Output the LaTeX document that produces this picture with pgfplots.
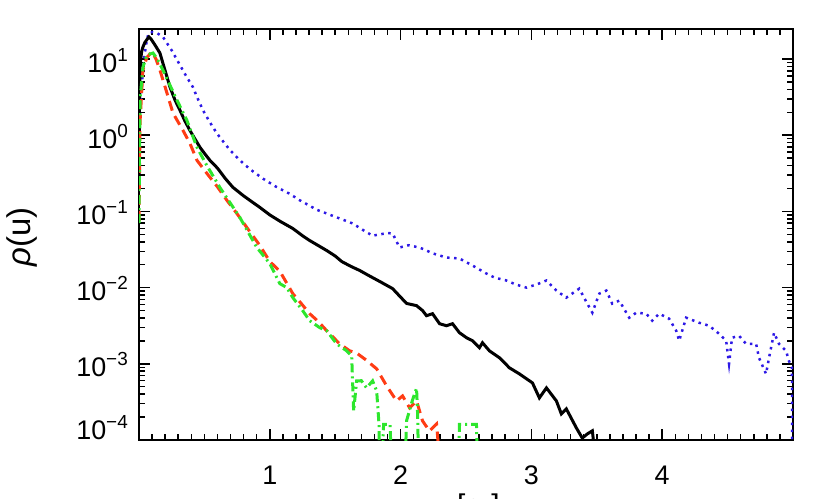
\documentclass[border=0pt]{standalone}
\usepackage{fontspec}
\setmainfont{Liberation Sans}
\usepackage{pgfplots}
\pgfplotsset{compat=1.18}
\definecolor{myblue}{RGB}{45,25,230}
\definecolor{myred}{RGB}{255,60,20}
\definecolor{mygreen}{RGB}{45,230,45}
\newcommand{\tl}[1]{10\raisebox{11bp}{\fontsize{19}{19}\selectfont #1}}
\begin{document}
\begin{tikzpicture}
\begin{axis}[
  at={(139bp,59bp)}, anchor=south west,
  width=654bp, height=411bp, scale only axis,
  xmin=0, xmax=5, ymode=log, ymin=1e-4, ymax=24.8,
  axis line style={line width=2bp},
  every tick/.style={black, line width=1.5bp},
  tick align=inside,
  major tick length=11bp, minor tick length=6bp,
  xtick={0,1,2,3,4,5}, xticklabels={,1,2,3,4,},
  minor x tick num=9,
  ytick={1e-4,1e-3,1e-2,1e-1,1,10},
  yticklabels={\raisebox{14bp}{\tl{−4}},\tl{−3},\tl{−2},\tl{−1},\tl{0},\tl{1}},
  xticklabel style={font=\fontsize{27}{27}\selectfont, anchor=base, inner sep=0pt, yshift=-44bp},
  yticklabel style={font=\fontsize{27}{27}\selectfont, anchor=base east, inner sep=0pt, xshift=-11bp, yshift=-13bp},
  ylabel={\textit{ρ}(u)},
  ylabel style={font=\fontsize{33}{33}\selectfont, at={(axis description cs:-0.179,0.494)}, anchor=center, inner sep=0pt},
  xlabel={u [c\textsubscript{s}]},
  xlabel style={font=\fontsize{30}{30}\selectfont, at={(axis description cs:0.448,-0.1825)}, anchor=base west, inner sep=0pt},
  clip=true,
]
% blue dotted
\addplot[myblue, line width=2.5bp, dash pattern=on 2.5bp off 4.5bp] coordinates {
(0,1.0) (0.01,2.5) (0.02,4.3) (0.03,7) (0.04,10.6) (0.06,17.8) (0.07,20.7) (0.084,22.6)
(0.11,22.5) (0.137,22) (0.183,19.5) (0.25,13) (0.313,8.34) (0.36,6) (0.412,4.29) (0.45,3.0)
(0.489,2.13) (0.54,1.5) (0.595,1.06) (0.65,0.8) (0.695,0.64) (0.771,0.47) (0.847,0.36)
(0.947,0.27) (1.05,0.21) (1.153,0.17) (1.229,0.14) (1.3,0.12) (1.36,0.105) (1.435,0.094)
(1.5,0.085) (1.55,0.079) (1.634,0.0695) (1.72,0.056) (1.786,0.048) (1.84,0.05) (1.9,0.052)
(1.939,0.0514) (1.992,0.0336) (2.06,0.036) (2.145,0.0336) (2.25,0.028) (2.351,0.0248)
(2.45,0.0241) (2.55,0.0195) (2.656,0.0153) (2.72,0.0135) (2.809,0.0124) (2.88,0.011)
(2.962,0.0100) (3.04,0.0110) (3.115,0.0124) (3.191,0.00914) (3.267,0.00739) (3.366,0.0097)
(3.42,0.0065) (3.466,0.00469) (3.519,0.00834) (3.573,0.00914) (3.618,0.00616) (3.672,0.00675)
(3.748,0.00403) (3.802,0.00469) (3.878,0.00455) (3.924,0.00368) (3.977,0.00455) (4.053,0.00391)
(4.107,0.00272) (4.13,0.00201) (4.183,0.00403) (4.282,0.00346) (4.359,0.00316) (4.435,0.00248)
(4.489,0.00201) (4.511,0.0010) (4.534,0.0022) (4.588,0.00233) (4.641,0.00183) (4.718,0.00183)
(4.74,0.0012) (4.794,0.000738) (4.817,0.0012) (4.855,0.00256) (4.893,0.00183) (4.947,0.00148)
(4.969,0.00109) (4.992,0.000886) (4.995,0.00005)
};
% black solid
\addplot[black, line width=3bp] coordinates {
(0,0.3) (0.004,3) (0.01,8.8) (0.02,12.5) (0.03,14.4) (0.045,16.5) (0.06,18) (0.076,19.5)
(0.09,18.5) (0.12,15.5) (0.16,12.0) (0.2,7) (0.237,4.28) (0.275,2.9) (0.313,2.13) (0.35,1.55)
(0.389,1.16) (0.43,0.88) (0.466,0.695) (0.5,0.58) (0.542,0.469) (0.6,0.37) (0.66,0.27)
(0.718,0.207) (0.8,0.16) (0.86,0.135) (0.924,0.113) (1.0,0.09) (1.08,0.074) (1.176,0.0597)
(1.25,0.048) (1.3,0.042) (1.435,0.0307) (1.5,0.026) (1.55,0.022) (1.62,0.019) (1.687,0.0168)
(1.76,0.0143) (1.85,0.0118) (1.939,0.0097) (2.0,0.0075) (2.046,0.0062) (2.122,0.0058)
(2.168,0.0050) (2.198,0.00428) (2.244,0.00455) (2.298,0.00336) (2.351,0.00316) (2.397,0.00336)
(2.45,0.00256) (2.504,0.0022) (2.55,0.00201) (2.603,0.00163) (2.626,0.00189) (2.679,0.00148)
(2.756,0.0012) (2.832,0.000886) (2.908,0.000738) (3.008,0.000562) (3.061,0.000357)
(3.115,0.000483) (3.191,0.000326) (3.229,0.00022) (3.267,0.000256) (3.344,0.000144)
(3.389,0.000106) (3.427,0.00012) (3.466,0.000132) (3.48,0.00008)
};
% red dashed
\addplot[myred, line width=3bp, dash pattern=on 10bp off 6bp] coordinates {
(0,0.075) (0.008,1.5) (0.03,7.2) (0.06,10.5) (0.099,12.4) (0.13,10) (0.16,7.17) (0.214,3.57)
(0.26,1.95) (0.336,1.16) (0.389,0.785) (0.443,0.469) (0.519,0.316) (0.6,0.21) (0.672,0.14)
(0.75,0.093) (0.824,0.0617) (0.924,0.0357) (1.0,0.022) (1.076,0.0165) (1.176,0.00834)
(1.24,0.0062) (1.305,0.00455) (1.37,0.0036) (1.435,0.00272) (1.534,0.00183) (1.611,0.00148)
(1.66,0.0014) (1.725,0.00116) (1.817,0.00086) (1.893,0.000514) (1.969,0.000326)
(2.015,0.000379) (2.069,0.000264) (2.122,0.000326) (2.168,0.000178) (2.221,0.000131)
(2.275,0.000162) (2.3,0.00005)
};
% green dash-dot
\addplot[mygreen, line width=3bp, dash pattern=on 9bp off 4bp on 2bp off 4bp] coordinates {
(0,0.07) (0.005,1.0) (0.01,3.2) (0.03,7.8) (0.06,11.3) (0.107,12) (0.14,10) (0.183,7.17)
(0.29,2.89) (0.366,1.57) (0.443,0.695) (0.519,0.40) (0.618,0.207) (0.771,0.0834)
(0.901,0.0336) (1.0,0.0207) (1.076,0.0113) (1.13,0.0100) (1.176,0.00739) (1.252,0.00498)
(1.305,0.00368) (1.382,0.00298) (1.435,0.00272) (1.511,0.00183) (1.588,0.00148)
(1.626,0.00127) (1.641,0.00024) (1.664,0.000597) (1.70,0.00060) (1.74,0.000483)
(1.786,0.000597) (1.817,0.000441) (1.835,0.00016) (1.845,0.00001) (1.87,0.00016)
(1.92,0.00016) (1.94,0.00001) (2.02,0.00001) (2.046,0.00018) (2.09,0.00033) (2.122,0.00048)
(2.13,0.00022) (2.145,0.00001) (2.43,0.00001) (2.45,0.00016) (2.58,0.00016) (2.6,0.00001)
};
\end{axis}
\pgfresetboundingbox
\useasboundingbox (0,0) rectangle (830bp,499bp);
\end{tikzpicture}
\end{document}
